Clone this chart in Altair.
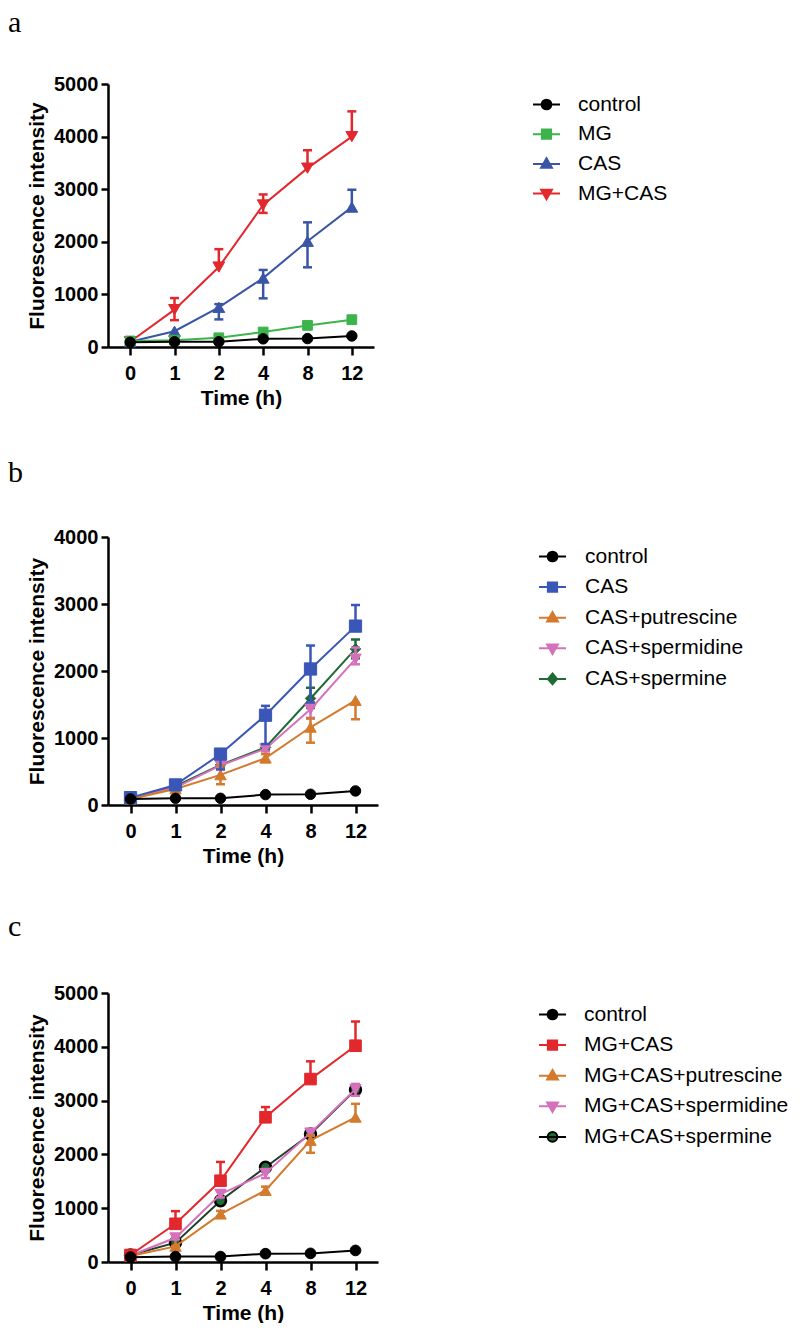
import altair as alt
import pandas as pd

TIMES = ["0", "1", "2", "4", "8", "12"]

# ---------------- panel a ----------------
A_NAMES = ["control", "MG", "CAS", "MG+CAS"]
A_CONTROL = [90, 100, 100, 155, 160, 210]
A_MG = [115, 130, 175, 285, 410, 520]
A_CAS = [100, 300, 755, 1310, 2010, 2660]
A_CAS_HI = [100, 300, 815, 1465, 2370, 2990]
A_CAS_LO = [100, 300, 525, 925, 1515, 2660]
A_MGCAS = [100, 710, 1520, 2700, 3400, 4000]
A_MGCAS_HI = [100, 930, 1860, 2900, 3740, 4480]
A_MGCAS_LO = [100, 510, 1520, 2550, 3400, 4000]

# ---------------- panel b ----------------
B_NAMES = ["control", "CAS", "CAS+putrescine", "CAS+spermidine", "CAS+spermine"]
B_CONTROL = [90, 100, 100, 155, 160, 210]
B_CAS = [110, 300, 760, 1340, 2030, 2670]
B_CAS_HI = [110, 310, 810, 1480, 2380, 2985]
B_CAS_LO = [110, 290, 530, 910, 1530, 2670]
B_PUT = [90, 240, 450, 700, 1160, 1560]
B_PUT_HI = [90, 250, 590, 760, 1290, 1560]
B_PUT_LO = [90, 230, 310, 640, 930, 1280]
B_SPD = [90, 260, 590, 840, 1430, 2180]
B_SPD_HI = [90, 270, 630, 880, 1530, 2350]
B_SPD_LO = [90, 250, 540, 800, 1300, 2100]
B_SPM = [90, 280, 600, 860, 1590, 2330]
B_SPM_HI = [90, 290, 640, 900, 1750, 2470]
B_SPM_LO = [90, 270, 560, 820, 1450, 2190]

# ---------------- panel c ----------------
C_NAMES = ["control", "MG+CAS", "MG+CAS+putrescine", "MG+CAS+spermidine", "MG+CAS+spermine"]
C_CONTROL = [90, 100, 100, 155, 160, 215]
C_MGCAS = [130, 710, 1510, 2690, 3400, 4020]
C_MGCAS_HI = [130, 945, 1860, 2880, 3730, 4470]
C_PUT = [110, 290, 890, 1330, 2260, 2690]
C_PUT_HI = [110, 300, 950, 1400, 2350, 2940]
C_PUT_LO = [110, 280, 850, 1260, 2030, 2690]
C_SPD = [120, 450, 1260, 1650, 2400, 3210]
C_SPD_HI = [120, 480, 1330, 1720, 2450, 3310]
C_SPD_LO = [120, 420, 1200, 1560, 2350, 3090]
C_SPM = [130, 360, 1140, 1760, 2380, 3200]

# ---------------- styles ----------------
BLACK = "#000000"
GREEN = "#3cb44b"
BLUE = "#3b55a6"
RED = "#e2282c"
ORANGE = "#d37a2c"
PINK = "#d571bb"
DKGREEN = "#1f6b35"

P_CIRCLE = "M-1,0L1,0M0.36,0A0.36,0.36,0,1,1,-0.36,0A0.36,0.36,0,1,1,0.36,0Z"
P_SQUARE = "M-1,0L1,0M-0.34,-0.34L0.34,-0.34L0.34,0.34L-0.34,0.34Z"
P_TUP = "M-1,0L1,0M0,-0.42L0.4,0.28L-0.4,0.28Z"
P_TDOWN = "M-1,0L1,0M-0.4,-0.28L0.4,-0.28L0,0.42Z"
P_DIAMOND = "M-1,0L1,0M0,-0.4L0.34,0L0,0.4L-0.34,0Z"

FONT = "Liberation Sans"


def make_df(names, vals, his, los):
    rows = []
    for name, v, h, l in zip(names, vals, his, los):
        for i, t in enumerate(TIMES):
            rows.append(dict(series=name, t=t, idx=i, v=v[i], hi=h[i], lo=l[i]))
    return pd.DataFrame(rows)


def panel(letter, letter_y, names, df, styles, ymax, width, height,
          legend_x, legend_y, label_offset, row_pad):
    yscale = alt.Scale(domain=[0, ymax], nice=False, zero=True)
    yaxis = alt.Axis(title="Fluorescence intensity", format="d",
                     values=list(range(0, ymax + 1, 1000)))
    x = alt.X("t:O", scale=alt.Scale(type="point", domain=TIMES, padding=0.5),
              axis=alt.Axis(title="Time (h)", labelAngle=0))
    yv = alt.Y("v:Q", scale=yscale, axis=yaxis)
    yhi = alt.Y("hi:Q", scale=yscale, axis=yaxis)
    ylo = alt.Y("lo:Q", scale=yscale, axis=yaxis)

    base = alt.Chart(df)
    layers = []
    for name, st in reversed(list(zip(names, styles))):
        sub = base.transform_filter(alt.datum.series == name)
        sdf = df[df.series == name]
        layers.append(sub.mark_line(color=st["line"], strokeWidth=2)
                      .encode(x=x, y=yv, order=alt.Order("idx:Q")))
        if (sdf.hi > sdf.lo).any():
            layers.append(sub.transform_filter("datum.hi > datum.lo")
                          .mark_rule(color=st["line"], strokeWidth=2.5)
                          .encode(x=x, y=yhi, y2="lo:Q"))
        if (sdf.hi > sdf.v).any():
            layers.append(sub.transform_filter("datum.hi > datum.v")
                          .mark_tick(color=st["line"], size=9, thickness=2.5, opacity=1)
                          .encode(x=x, y=yhi))
        if (sdf.lo < sdf.v).any():
            layers.append(sub.transform_filter("datum.lo < datum.v")
                          .mark_tick(color=st["line"], size=9, thickness=2.5, opacity=1)
                          .encode(x=x, y=ylo))
        layers.append(sub.mark_point(shape=st["shape"], size=st["size"], filled=True,
                                     fill=st["fill"], stroke=st["stroke"],
                                     strokeWidth=st["sw"], opacity=1)
                      .encode(x=x, y=yv))

    leg = alt.Legend(title=None, orient="none", legendX=legend_x, legendY=legend_y,
                     labelOffset=label_offset, rowPadding=row_pad, labelLimit=400)
    legend_layer = base.transform_filter("false").mark_point(filled=True, opacity=1).encode(
        shape=alt.Shape("series:N", scale=alt.Scale(domain=names, range=[s["path"] for s in styles]), legend=leg),
        fill=alt.Fill("series:N", scale=alt.Scale(domain=names, range=[s["fill"] for s in styles]), legend=leg),
        stroke=alt.Stroke("series:N", scale=alt.Scale(domain=names, range=[s["lstroke"] for s in styles]), legend=leg),
    )
    layers.append(legend_layer)

    letter_layer = alt.Chart(pd.DataFrame({"lab": [letter]})).mark_text(
        font="Liberation Serif", fontSize=30, align="left", baseline="alphabetic", color="black"
    ).encode(text="lab:N", x=alt.value(-100), y=alt.value(letter_y))
    layers.append(letter_layer)

    return alt.layer(*layers).properties(width=width, height=height)


def sty(color, shape, size, path, fill=None, stroke=None, sw=1, lstroke=None):
    return dict(line=color, shape=shape, size=size, path=path,
                fill=fill or color, stroke=stroke or color, sw=sw,
                lstroke=lstroke or color)


A_STY = [sty(BLACK, "circle", 110, P_CIRCLE),
         sty(GREEN, "square", 95, P_SQUARE),
         sty(BLUE, "triangle-up", 140, P_TUP),
         sty(RED, "triangle-down", 140, P_TDOWN)]
B_STY = [sty(BLACK, "circle", 110, P_CIRCLE),
         sty("#3a57b8", "square", 150, P_SQUARE),
         sty(ORANGE, "triangle-up", 130, P_TUP),
         sty(PINK, "triangle-down", 130, P_TDOWN),
         sty(DKGREEN, "diamond", 110, P_DIAMOND)]
C_STY = [sty(BLACK, "circle", 115, P_CIRCLE),
         sty(RED, "square", 135, P_SQUARE),
         sty(ORANGE, "triangle-up", 130, P_TUP),
         sty(PINK, "triangle-down", 130, P_TDOWN),
         sty("#1e3f27", "circle", 120, P_CIRCLE, fill=DKGREEN, stroke=BLACK, sw=2.5, lstroke=BLACK)]

df_a = make_df(A_NAMES, [A_CONTROL, A_MG, A_CAS, A_MGCAS],
               [A_CONTROL, A_MG, A_CAS_HI, A_MGCAS_HI],
               [A_CONTROL, A_MG, A_CAS_LO, A_MGCAS_LO])
df_b = make_df(B_NAMES, [B_CONTROL, B_CAS, B_PUT, B_SPD, B_SPM],
               [B_CONTROL, B_CAS_HI, B_PUT_HI, B_SPD_HI, B_SPM_HI],
               [B_CONTROL, B_CAS_LO, B_PUT_LO, B_SPD_LO, B_SPM_LO])
df_c = make_df(C_NAMES, [C_CONTROL, C_MGCAS, C_PUT, C_SPD, C_SPM],
               [C_CONTROL, C_MGCAS_HI, C_PUT_HI, C_SPD_HI, C_SPM],
               [C_CONTROL, C_MGCAS, C_PUT_LO, C_SPD_LO, C_SPM])

pa = panel("a", -52, A_NAMES, df_a, A_STY, 5000, 266, 263, 424, 6, 17, 4.7)
pb = panel("b", -55, B_NAMES, df_b, B_STY, 4000, 270, 268, 430, 5, 18, 5.6)
pc = panel("c", -57, C_NAMES, df_c, C_STY, 5000, 270, 269, 430, 7, 17, 5.6)

inner = alt.vconcat(pa, pb, spacing=50).resolve_scale(
    shape="independent", fill="independent", stroke="independent"
).resolve_legend(shape="independent", fill="independent", stroke="independent")

chart = alt.vconcat(inner, pc, spacing=46).resolve_scale(
    shape="independent", fill="independent", stroke="independent"
).resolve_legend(
    shape="independent", fill="independent", stroke="independent"
).properties(
    padding=0
).configure_view(stroke=None).configure_axis(
    domainColor="black", domainWidth=2.5, tickColor="black", tickWidth=2.5,
    labelFont=FONT, labelFontWeight="bold", labelFontSize=20, labelColor="black",
    titleFont=FONT, titleFontWeight="bold", titleFontSize=21, titleColor="black",
    grid=False, labelFlush=False
).configure_axisX(
    tickSize=8, labelPadding=8, titlePadding=4
).configure_axisY(
    tickSize=7, labelPadding=3, titlePadding=6
).configure_legend(
    labelFont=FONT, labelFontSize=21, labelColor="black", symbolSize=729,
    symbolStrokeWidth=2, padding=0
)

chart.save("out.html", embed_options={"renderer": "svg", "actions": False})
